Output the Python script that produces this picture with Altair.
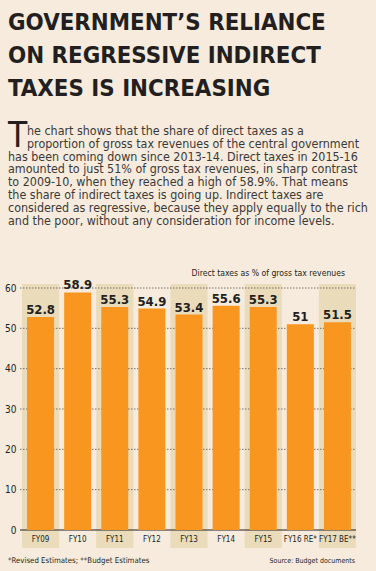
import altair as alt
import pandas as pd

# ---- data ----
categories = ["FY09", "FY10", "FY11", "FY12", "FY13", "FY14", "FY15", "FY16 RE*", "FY17 BE**"]
values = [52.8, 58.9, 55.3, 54.9, 53.4, 55.6, 55.3, 51, 51.5]
value_labels = ["52.8", "58.9", "55.3", "54.9", "53.4", "55.6", "55.3", "51", "51.5"]
shaded = ["FY09", "FY11", "FY13", "FY15", "FY17 BE**"]
y_ticks = [0, 10, 20, 30, 40, 50, 60]
grid_vals = [10, 20, 30, 40, 50, 60]

headline = ["GOVERNMENT\u2019S RELIANCE", "ON REGRESSIVE INDIRECT", "TAXES IS INCREASING"]
body_indented = ["he chart shows that the share of direct taxes as a",
                 "proportion of gross tax revenues of the central government"]
body_rest = ["has been coming down since 2013-14. Direct taxes in 2015-16",
             "amounted to just 51% of gross tax revenues, in sharp contrast",
             "to 2009-10, when they reached a high of 58.9%. That means",
             "the share of indirect taxes is going up. Indirect taxes are",
             "considered as regressive, because they apply equally to the rich",
             "and the poor, without any consideration for income levels."]
drop_cap = "T"
chart_label = "Direct taxes as % of gross tax revenues"
footnote = "*Revised Estimates; **Budget Estimates"
source = "Source: Budget documents"

# ---- style ----
FONT = "'DejaVu Sans Condensed', 'Liberation Sans Narrow', sans-serif"
BG = "#F6EBDC"
TAN = "#EADCBA"
ORANGE = "#F8961F"
DARK = "#231F20"
BODY = "#3A3A3A"

W, H = 334, 242

df = pd.DataFrame({"cat": categories, "val": values, "lab": value_labels})
df_band = pd.DataFrame({"cat": shaded})
df_grid = pd.DataFrame({"v": grid_vals})

xscale = alt.Scale(domain=categories, paddingInner=0, paddingOuter=0)
yscale = alt.Scale(domain=[0, 60], nice=False)

x_axis = alt.Axis(title=None, labelAngle=0, domain=False, ticks=False, grid=False,
                  labelPadding=5, labelFont=FONT, labelFontSize=8, labelColor=DARK)
y_axis = alt.Axis(title=None, values=y_ticks, grid=False, domain=False,
                  ticks=False, labelPadding=6, labelFont=FONT,
                  labelFontSize=10, labelColor=DARK)

X = lambda: alt.X("cat:N", scale=xscale, sort=categories, axis=x_axis, title=None)

bands = alt.Chart(df_band).mark_rect(color=TAN).encode(
    x=X(),
    y=alt.value(-4),
    y2=alt.value(260),
)

grid = alt.Chart(df_grid).mark_rule(color="#555555", strokeDash=[1.5, 1.5], strokeWidth=0.8).encode(
    y=alt.Y("v:Q", scale=yscale, axis=y_axis, title=None),
    x=alt.value(-2),
    x2=alt.value(W),
)

zero = alt.Chart(pd.DataFrame({"v": [0]})).mark_rule(color=DARK, strokeWidth=1.2).encode(
    y=alt.Y("v:Q", scale=yscale, axis=y_axis, title=None),
    x=alt.value(-2),
    x2=alt.value(W),
)

bars = alt.Chart(df).mark_bar(width=27, color=ORANGE).encode(
    x=X(),
    y=alt.Y("val:Q", scale=yscale, axis=y_axis, title=None),
)

labels = alt.Chart(df).mark_text(font=FONT, fontSize=13, fontWeight="bold", color=DARK,
                                 baseline="alphabetic", dy=-3).encode(
    x=X(),
    y=alt.Y("val:Q", scale=yscale, axis=y_axis, title=None),
    text="lab:N",
)

def text_block(lines, x, y, size, weight="normal", color=DARK, align="left", line_h=None, font=FONT):
    d = pd.DataFrame({"t": ["\n".join(lines)]})
    kw = dict(font=font, fontSize=size, fontWeight=weight, color=color, align=align,
              baseline="alphabetic", lineBreak="\n")
    if line_h is not None:
        kw["lineHeight"] = line_h
    return alt.Chart(d).mark_text(**kw).encode(
        text="t:N", x=alt.value(x), y=alt.value(y))

t_head = text_block(headline, -14, -258, 23.8, weight="bold", line_h=33)
t_cap = text_block([drop_cap], -14, -141, 35, color=DARK)
t_body1 = text_block(body_indented, 5, -153, 12.4, color=BODY, line_h=12.8)
t_body2 = text_block(body_rest, -14, -127.4, 12.4, color=BODY, line_h=12.8)
t_label = text_block([chart_label], 323, -12, 8.6, align="right")
t_foot = text_block([footnote], -14, 275, 7.8)
t_src = text_block([source], 333, 275, 7, align="right")

chart = alt.layer(
    bands, grid, zero, bars, labels,
    t_head, t_cap, t_body1, t_body2, t_label, t_foot, t_src
).properties(
    width=W, height=H,
    autosize=alt.AutoSizeParams(type="none"),
    padding={"left": 22, "top": 288, "right": 20, "bottom": 41},
    background=BG,
).configure_view(stroke=None)

chart.save("out.html", embed_options={"renderer": "svg", "actions": False})
